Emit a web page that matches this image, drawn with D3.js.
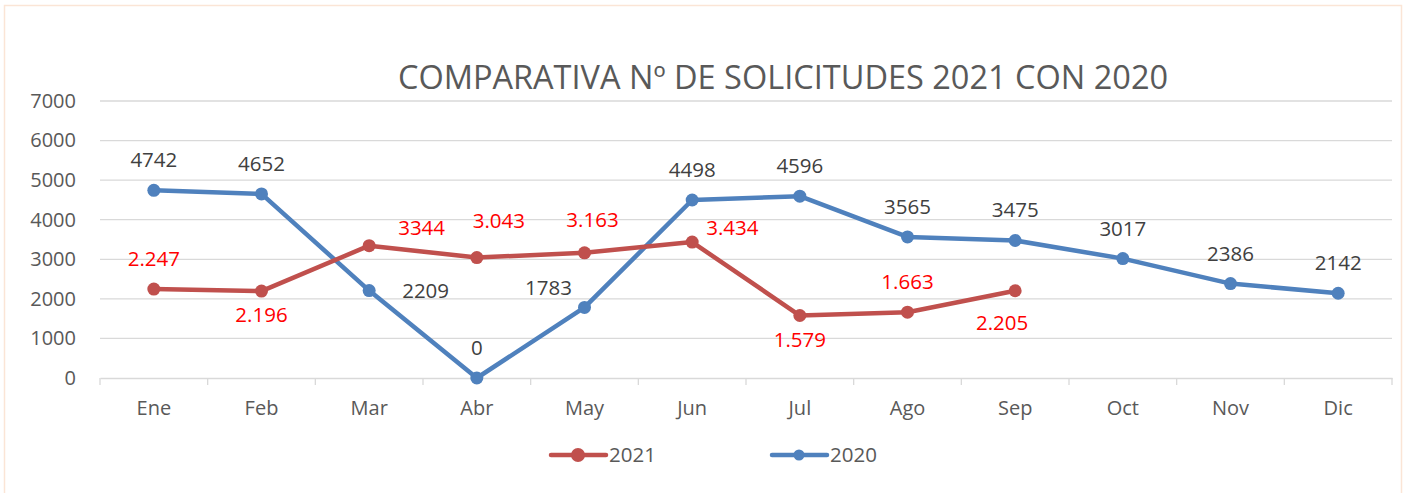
<!DOCTYPE html>
<html><head><meta charset="utf-8">
<script src="https://cdn.jsdelivr.net/npm/d3@7"></script>
<style>
html,body{margin:0;padding:0;background:#fff;}
svg{display:block;font-family:"Open Sans",sans-serif;}
</style></head>
<body>
<svg id="chart" width="1407" height="493"></svg>
<script>
const months = ["Ene","Feb","Mar","Abr","May","Jun","Jul","Ago","Sep","Oct","Nov","Dic"];
const yTicks = [0,1000,2000,3000,4000,5000,6000,7000];
const values2021 = [2247,2196,3344,3043,3163,3434,1579,1663,2205];
const labels2021 = ["2.247","2.196","3344","3.043","3.163","3.434","1.579","1.663","2.205"];
const place2021 = ["t","b","tr","ta","tb","tr2","b","t","bl"];
const values2020 = [4742,4652,2209,0,1783,4498,4596,3565,3475,3017,2386,2142];
const labels2020 = ["4742","4652","2209","0","1783","4498","4596","3565","3475","3017","2386","2142"];
const place2020 = ["t","t","r","t","tl","t","t","t","t","t","t","t"];
const seriesNames = ["2021","2020"];
const title = "COMPARATIVA Nº DE SOLICITUDES 2021 CON 2020";

const C21 = "#C0504D", C20 = "#4F81BD", TXT = "#595959";
const svg = d3.select("#chart");
svg.append("rect").attr("x",4.5).attr("y",5.5).attr("width",1397).attr("height",495)
  .attr("fill","#fff").attr("stroke","#FBE5D6").attr("stroke-width",1.5);

const mL = 100, mR = 1392, mT = 101, mB = 378;
const x = d3.scaleBand().domain(months).range([mL,mR]);
const y = d3.scaleLinear().domain([0,7000]).range([mB,mT]);
const cx = m => x(m) + x.bandwidth()/2;

// gridlines
svg.append("g").selectAll("line").data(yTicks.filter(d=>d>0)).join("line")
  .attr("x1",mL).attr("x2",mR).attr("y1",d=>y(d)).attr("y2",d=>y(d))
  .attr("stroke","#D9D9D9").attr("stroke-width",1.3);

// y axis labels
const yAxis = svg.append("g").attr("transform",`translate(${mL},0)`)
  .call(d3.axisLeft(y).tickValues(yTicks).tickSize(0).tickPadding(24).tickFormat(d3.format("d")));
yAxis.select(".domain").remove();
yAxis.selectAll("text").attr("fill",TXT).style("font-size","20px").style("font-family","Open Sans");

// x axis
const xAxis = svg.append("g").attr("transform",`translate(0,${mB})`)
  .call(d3.axisBottom(x).tickSize(0).tickPadding(23));
xAxis.select(".domain").attr("stroke","#D9D9D9").attr("stroke-width",1.3);
xAxis.selectAll("text").attr("fill",TXT).style("font-size","20px").style("font-family","Open Sans");
// category boundary ticks
svg.append("g").selectAll("line").data(d3.range(months.length+1)).join("line")
  .attr("x1",i=>mL + i*x.step()).attr("x2",i=>mL + i*x.step())
  .attr("y1",mB).attr("y2",mB+7).attr("stroke","#D9D9D9").attr("stroke-width",1.3);

// title
svg.append("text").attr("x",783).attr("y",89).attr("text-anchor","middle")
  .attr("fill",TXT).style("font-size","32.5px").text(title);

const line = d3.line().x(d=>cx(d.m)).y(d=>y(d.v));
function drawSeries(vals, color){
  const data = vals.map((v,i)=>({m:months[i],v}));
  svg.append("path").datum(data).attr("d",line).attr("fill","none")
    .attr("stroke",color).attr("stroke-width",4.5).attr("stroke-linejoin","round").attr("stroke-linecap","round");
  svg.append("g").selectAll("circle").data(data).join("circle")
    .attr("cx",d=>cx(d.m)).attr("cy",d=>y(d.v)).attr("r",6.5).attr("fill",color);
  return data;
}
const d20 = drawSeries(values2020, C20);
const d21 = drawSeries(values2021, C21);

const off = {t:[0,-23],b:[0,31],r:[33,7],tr:[29,-11],tr2:[14,-7],ta:[22,-30],tb:[8,-26],tl:[-36,-12],bl:[-13,39]};
const anchor = {t:"middle",b:"middle",r:"start",tr:"start",tr2:"start",ta:"middle",tb:"middle",tl:"middle",bl:"middle"};
function drawLabels(data, labels, places, color){
  svg.append("g").selectAll("text").data(data).join("text")
    .attr("x",(d,i)=>cx(d.m)+off[places[i]][0]).attr("y",(d,i)=>y(d.v)+off[places[i]][1])
    .attr("text-anchor",(d,i)=>anchor[places[i]])
    .attr("fill",color).style("font-size","20.5px").text((d,i)=>labels[i]);
}
drawLabels(d20, labels2020, place2020, "#404040");
drawLabels(d21, labels2021, place2021, "#FF0000");

// legend
const leg = svg.append("g");
[[C21,551],[C20,772]].forEach(([c,lx],i)=>{
  leg.append("line").attr("x1",lx).attr("x2",lx+55).attr("y1",455).attr("y2",455)
    .attr("stroke",c).attr("stroke-width",4.5).attr("stroke-linecap","round");
  leg.append("circle").attr("cx",lx+27).attr("cy",455).attr("r",i===0?7:5.5).attr("fill",c);
  leg.append("text").attr("x",lx+58).attr("y",462).attr("fill",TXT).style("font-size","20.5px").text(seriesNames[i]);
});
</script>
</body></html>
